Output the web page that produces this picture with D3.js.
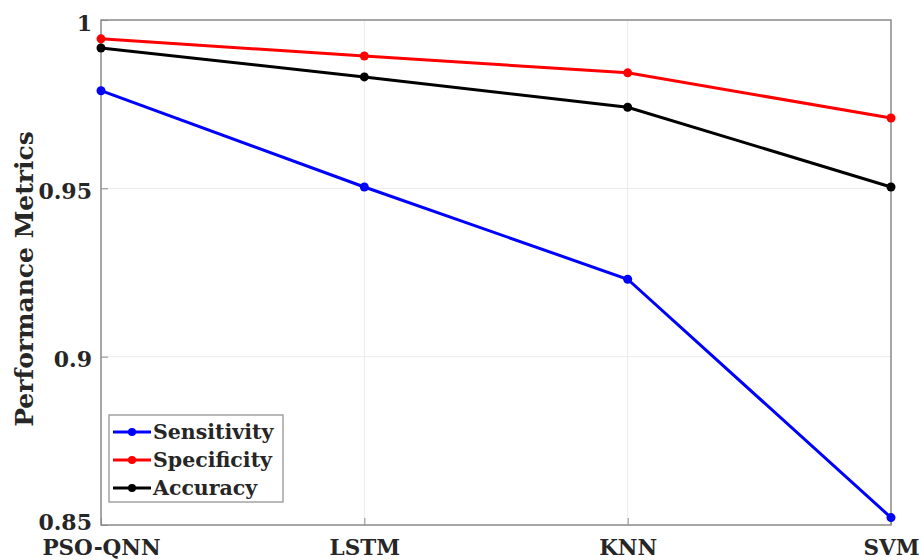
<!DOCTYPE html>
<html>
<head>
<meta charset="utf-8">
<script src="https://cdn.jsdelivr.net/npm/d3@7"></script>
<style>
  body { margin: 0; background: #fff; }
  text { font-family: "DejaVu Serif", "Liberation Serif", serif; font-weight: bold; fill: #262626; }
</style>
</head>
<body>
<div id="chart"></div>
<script>
// data
var models = ["PSO-QNN", "LSTM", "KNN", "SVM"];
var sensitivity = [0.979, 0.9504, 0.923, 0.8522];
var specificity = [0.9944, 0.9893, 0.9843, 0.9709];
var accuracy = [0.9917, 0.9831, 0.9741, 0.9504];
var yTicks = [0.85, 0.9, 0.95, 1];
var yTickLabels = ["0.85", "0.9", "0.95", "1"];

var series = [
  {name: "Sensitivity", values: sensitivity, color: "#0000ff"},
  {name: "Specificity", values: specificity, color: "#ff0000"},
  {name: "Accuracy", values: accuracy, color: "#000000"}
];

var W = 922, H = 560;
var margin = {top: 20, right: 31, bottom: 35, left: 101};
var width = W - margin.left - margin.right,
    height = H - margin.top - margin.bottom;

var svg = d3.select("#chart")
  .append("svg")
    .attr("width", W)
    .attr("height", H)
  .append("g")
    .attr("transform", "translate(" + margin.left + "," + margin.top + ")");

var x = d3.scalePoint()
  .domain(models)
  .range([0, width]);

var y = d3.scaleLinear()
  .domain([0.85, 1])
  .range([height, 0]);

// grid
svg.append("g")
  .selectAll("line")
  .data(models)
  .enter().append("line")
    .attr("x1", d => x(d)).attr("x2", d => x(d))
    .attr("y1", 0).attr("y2", height)
    .attr("stroke", "#ebebeb").attr("stroke-width", 1);
svg.append("g")
  .selectAll("line")
  .data(yTicks)
  .enter().append("line")
    .attr("x1", 0).attr("x2", width)
    .attr("y1", d => y(d)).attr("y2", d => y(d))
    .attr("stroke", "#ebebeb").attr("stroke-width", 1);

// axes (ticks point inward)
var xAxis = svg.append("g")
  .attr("transform", "translate(0," + height + ")")
  .call(d3.axisBottom(x).tickSize(-7).tickPadding(6));
xAxis.select(".domain").remove();
xAxis.selectAll("line").attr("stroke", "#8c8c8c");
xAxis.selectAll("text")
  .style("font-size", "21.5px")
  .attr("y", 30)
  .attr("dy", 0);

var yAxis = svg.append("g")
  .call(d3.axisLeft(y).tickValues(yTicks).tickSize(-7).tickPadding(9)
    .tickFormat((d, i) => yTickLabels[i]));
yAxis.select(".domain").remove();
yAxis.selectAll("line").attr("stroke", "#8c8c8c");
yAxis.selectAll("text")
  .style("font-size", "22px")
  .attr("x", -9)
  .attr("y", d => d === 0.85 ? 4 : 10)
  .attr("dy", 0);

// frame
svg.append("rect")
  .attr("width", width).attr("height", height)
  .attr("fill", "none")
  .attr("stroke", "#8c8c8c").attr("stroke-width", 1.5);

// y label
svg.append("text")
  .attr("transform", "rotate(-90)")
  .attr("x", -259)
  .attr("y", -68)
  .attr("text-anchor", "middle")
  .style("font-size", "25px")
  .text("Performance Metrics");

// lines
var line = d3.line()
  .x((d, i) => x(models[i]))
  .y(d => y(d));

series.forEach(function(s) {
  svg.append("path")
    .datum(s.values)
    .attr("d", line)
    .attr("fill", "none")
    .attr("stroke", s.color)
    .attr("stroke-width", 3);
  svg.selectAll(null)
    .data(s.values)
    .enter().append("circle")
      .attr("cx", (d, i) => x(models[i]))
      .attr("cy", d => y(d))
      .attr("r", 4.5)
      .attr("fill", s.color);
});

// legend
var legend = svg.append("g")
  .attr("transform", "translate(8,395)");
legend.append("rect")
  .attr("width", 174).attr("height", 87)
  .attr("fill", "#fff")
  .attr("stroke", "#8c8c8c").attr("stroke-width", 1.2);
series.forEach(function(s, i) {
  var g = legend.append("g").attr("transform", "translate(0," + (17 + i * 28) + ")");
  g.append("line")
    .attr("x1", 4).attr("x2", 42)
    .attr("stroke", s.color).attr("stroke-width", 3);
  g.append("circle").attr("cx", 23).attr("r", 4).attr("fill", s.color);
  g.append("text")
    .attr("x", 44).attr("dy", "0.35em")
    .style("font-size", "20.5px")
    .text(s.name);
});
</script>
</body>
</html>
